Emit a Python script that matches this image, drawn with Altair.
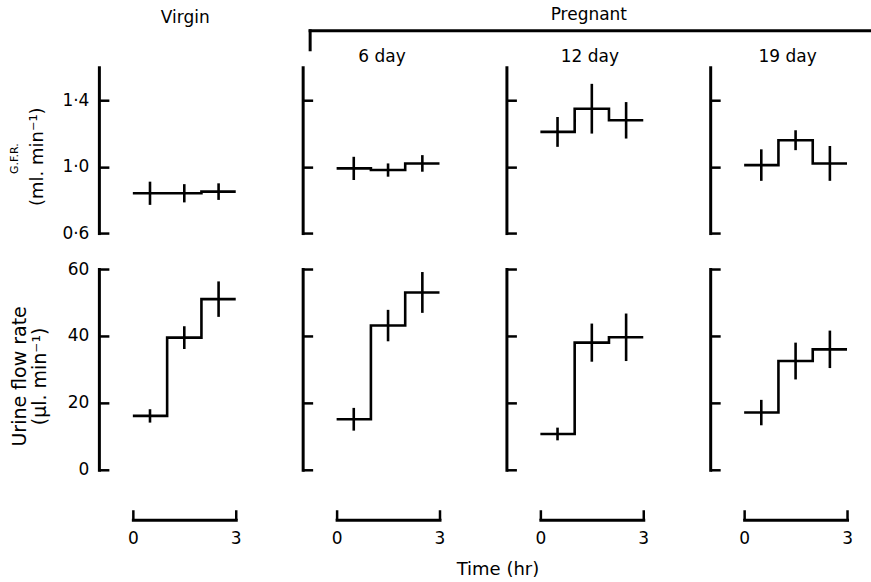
import altair as alt
import pandas as pd

# ---------------- data ----------------
GROUPS = ["Virgin", "6 day", "12 day", "19 day"]
HOUR_EDGES = [0, 1, 2, 3]          # hourly collection periods
HOUR_MID = [0.5, 1.5, 2.5]         # mid-points of the periods

GFR_MEAN = {
    "Virgin": [0.84, 0.84, 0.85],
    "6 day": [0.99, 0.98, 1.02],
    "12 day": [1.21, 1.35, 1.28],
    "19 day": [1.01, 1.16, 1.02],
}
GFR_SEM = {
    "Virgin": [0.07, 0.055, 0.05],
    "6 day": [0.07, 0.04, 0.05],
    "12 day": [0.09, 0.15, 0.11],
    "19 day": [0.095, 0.06, 0.105],
}
URINE_MEAN = {
    "Virgin": [16.1, 39.5, 51.0],
    "6 day": [15.1, 43.1, 53.0],
    "12 day": [10.7, 38.0, 39.6],
    "19 day": [17.1, 32.5, 36.0],
}
URINE_SEM = {
    "Virgin": [2.0, 3.4, 5.3],
    "6 day": [3.4, 4.7, 6.1],
    "12 day": [1.9, 5.7, 7.1],
    "19 day": [3.8, 5.5, 5.6],
}

GFR_DOMAIN = [0.6, 1.6]
GFR_TICKS = [0.6, 1.0, 1.4]
URINE_DOMAIN = [0, 60]
URINE_TICKS = [0, 20, 40, 60]
TIME_DOMAIN = [0, 3]
TIME_TICKS = [0, 3]

# ---------------- layout / style ----------------
FONT = "DejaVu Sans"
FS = 17
W = 137
H_HEAD = 1
H_GFR = 166
H_URINE = 201
X_RANGE = [34, 137]
TITLE_DX = {"Virgin": 18, "6 day": 11, "12 day": 15, "19 day": 9}
LW = 2.6


def panel(group, kind):
    first = group == "Virgin"
    if kind == "gfr":
        means, sems = GFR_MEAN[group], GFR_SEM[group]
        domain, ticks, height = GFR_DOMAIN, GFR_TICKS, H_GFR
    else:
        means, sems = URINE_MEAN[group], URINE_SEM[group]
        domain, ticks, height = URINE_DOMAIN, URINE_TICKS, H_URINE

    step = pd.DataFrame({"hr": HOUR_EDGES, "value": means + [means[-1]]})
    err = pd.DataFrame({
        "hr": HOUR_MID,
        "lo": [m - s for m, s in zip(means, sems)],
        "hi": [m + s for m, s in zip(means, sems)],
    })

    if kind == "urine":
        x_axis = alt.Axis(orient="top", offset=-(height + 50), values=TIME_TICKS,
                          domainWidth=3, domainCap="square", tickSize=10, tickWidth=2.5,
                          labelPadding=-21, labelBaseline="top", labelFlush=False,
                          labelFontSize=FS, title=None)
    else:
        x_axis = None
    x_enc = alt.X("hr:Q", scale=alt.Scale(domain=TIME_DOMAIN, range=X_RANGE), axis=x_axis)

    main = dict(orient="right", offset=-W, values=ticks, domainWidth=3, domainCap="square",
                tickSize=10, tickWidth=2.5, labelAlign="right", labelBaseline="middle",
                labelPadding=-20, labelFontSize=FS)
    if kind == "gfr":
        main["labelExpr"] = "replace(format(datum.value, '.1f'), '.', '\u00b7')"
    if first:
        if kind == "gfr":
            main.update(title="(ml. min\u207b\u00b9)", titleX=-56, titleY=89,
                        titleFontSize=18)
        else:
            main.update(title=["Urine flow rate", "(\u00b5l. min\u207b\u00b9)"], titleX=-73,
                        titleY=107, titleLineHeight=20, titleFontSize=19)
        main.update(titleAngle=270, titleAlign="center", titleBaseline="alphabetic")
    else:
        main.update(labels=False, title=None)

    yscale = alt.Scale(domain=domain, nice=False, zero=False)
    line = alt.Chart(step).mark_line(interpolate="step-after", color="black",
                                     strokeWidth=LW).encode(
        x=x_enc,
        y=alt.Y("value:Q", scale=yscale, axis=alt.Axis(**main)),
    )

    if first and kind == "gfr":
        side_axis = alt.Axis(orient="left", domain=False, ticks=False, labels=False,
                             title="G.F.R.", titleX=-81, titleY=91, titleAngle=270,
                             titleAlign="center", titleBaseline="alphabetic",
                             titleFontSize=11)
    else:
        side_axis = None
    bars = alt.Chart(err).mark_rule(color="black", strokeWidth=LW).encode(
        x=x_enc,
        y=alt.Y("lo:Q", scale=yscale, axis=side_axis),
        y2="hi:Q",
    )

    ch = alt.layer(line, bars).resolve_scale(y="independent").properties(
        width=W, height=height)
    if kind == "gfr" and not first:
        ch = ch.properties(title=alt.TitleParams(group, anchor="middle", frame="group",
                                                 dx=TITLE_DX[group], offset=5, dy=17,
                                                 baseline="alphabetic"))
    return ch


def header(group):
    df = pd.DataFrame({"hr": [0], "level": [0]})
    base = alt.Chart(df).mark_point(opacity=0)
    if group == "6 day":
        ch = base.encode(
            x=alt.X("hr:Q", scale=alt.Scale(domain=[0, 1], range=[7, 576]),
                    axis=alt.Axis(orient="top", domainWidth=3, domainCap="square",
                                  ticks=False, labels=False, title=None)),
            y=alt.Y("level:Q", scale=alt.Scale(domain=[0, 1], range=[19, 0]),
                    axis=alt.Axis(orient="left", offset=-7, domainWidth=3,
                                  domainCap="square", ticks=False, labels=False,
                                  title=None)),
        )
    else:
        ch = base.encode(
            x=alt.X("hr:Q", scale=alt.Scale(domain=[0, 1]), axis=None),
            y=alt.Y("level:Q", scale=alt.Scale(domain=[0, 1]), axis=None),
        )
    ch = ch.properties(width=W, height=H_HEAD)
    if group == "Virgin":
        ch = ch.properties(title=alt.TitleParams("Virgin", anchor="middle", frame="group",
                                                 dx=TITLE_DX["Virgin"], offset=6, dy=17,
                                                 baseline="alphabetic"))
    if group == "12 day":
        ch = ch.properties(title=alt.TitleParams("Pregnant", anchor="middle", frame="group",
                                                 dx=14, offset=9, dy=17,
                                                 baseline="alphabetic"))
    return ch


cells = [header(g) for g in GROUPS] + [panel(g, "gfr") for g in GROUPS] + \
        [panel(g, "urine") for g in GROUPS]

chart = alt.concat(*cells, columns=4, spacing={"row": 36, "column": 67},
                   bounds="flush").properties(
    title=alt.TitleParams("Time (hr)", orient="bottom", anchor="middle", frame="bounds",
                          dx=58, offset=28, baseline="alphabetic", fontSize=18),
    padding={"left": 9, "top": 5, "right": 0, "bottom": 0},
).configure_view(strokeWidth=0).configure_axis(
    grid=False, domainColor="black", tickColor="black", labelColor="black",
    titleColor="black", labelFont=FONT, titleFont=FONT, titleFontWeight="normal",
).configure_title(
    font=FONT, fontSize=FS, fontWeight="normal", color="black",
)

chart.save("out.html", embed_options={"renderer": "svg", "actions": False})
